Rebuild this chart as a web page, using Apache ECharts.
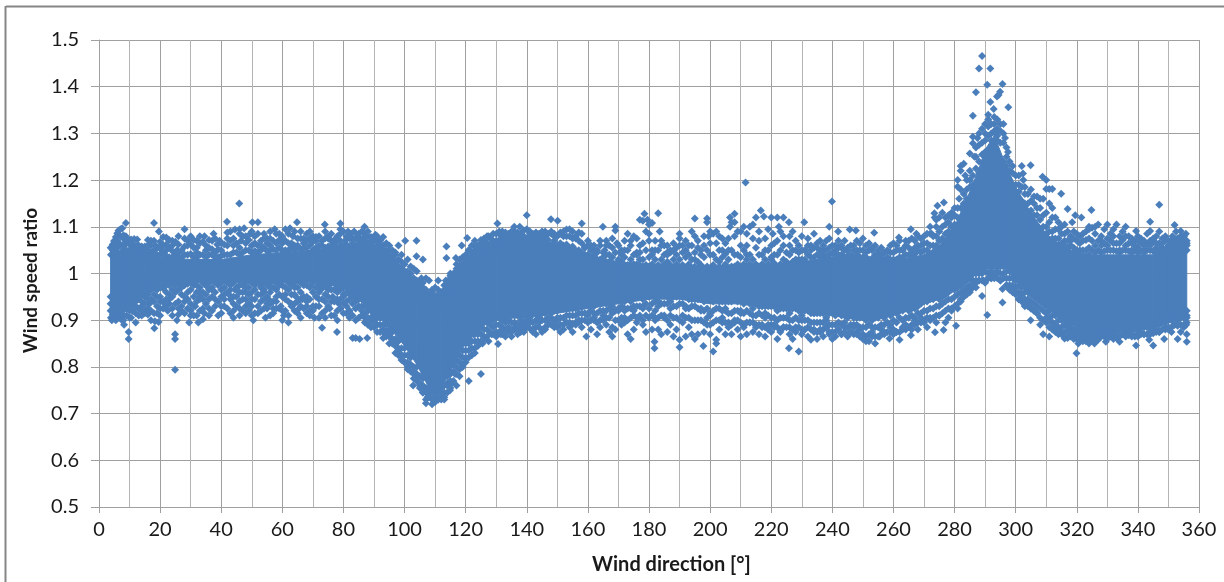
<!DOCTYPE html>
<html><head><meta charset="utf-8">
<style>html,body{margin:0;padding:0;background:#fff}#c{width:1224px;height:582px}</style>
<script src="https://cdn.jsdelivr.net/npm/echarts@6/dist/echarts.min.js"></script>
</head><body><div id="c"></div>
<script>
const xTitle = 'Wind direction [°]';
const yTitle = 'Wind speed ratio';
// solid core of the cloud, read as lower/upper edge per direction
const coreDirection = [3.8,8,10,15,20,30,40,50,60,70,80,85,90,95,100,104,108,110,112,115,118,120,123,126,130,135,140,150,160,170,180,190,200,210,220,230,240,250,260,270,275,280,285,288,290,293,296,300,305,310,315,320,325,330,335,340,345,350,355,356];
const coreLow = [.925,.925,.935,.955,.97,.98,.98,.98,.98,.98,.97,.945,.915,.885,.845,.805,.755,.74,.755,.79,.83,.85,.87,.89,.9,.905,.905,.915,.925,.935,.945,.945,.935,.935,.925,.92,.91,.9,.91,.935,.945,.965,.985,1.005,1.015,1.015,1.015,.985,.955,.93,.9,.885,.875,.875,.885,.885,.89,.9,.91,.91];
const coreHigh = [1.05,1.05,1.045,1.04,1.035,1.03,1.03,1.04,1.045,1.05,1.055,1.065,1.06,1.04,1.01,.98,.96,.955,.965,.99,1.01,1.03,1.05,1.06,1.07,1.075,1.075,1.065,1.04,1.025,1.02,1.02,1.015,1.02,1.02,1.025,1.035,1.03,1.028,1.04,1.06,1.1,1.175,1.225,1.265,1.295,1.245,1.185,1.13,1.085,1.06,1.045,1.04,1.04,1.04,1.04,1.04,1.05,1.065,1.065];
// individual readings around and above/below the core
const sectorA = [[3.8,1.055],[3.9,1.04],[3.8,.95],[3.8,.935],[3.8,.92],[3.9,.905],[4.2,.9],[4.5,1.06],[5,1.07],[5.5,1.078],[6,1.086],[6.4,1.092],[7,1.095],[7.6,1.097],[8,1.082],[8.8,1.108],[8.8,1.08],[8.5,1.066],[9.5,1.073],[10.5,1.073],[11.5,1.074],[12.5,1.073],[11,1.055],[13,1.05],[14.5,1.05],[16,1.06],[17,1.06],[18,1.108],[19.6,1.09],[18.5,1.06],[21,1.078],[22,1.077],[23,1.072],[20.5,1.05],[24,1.06],[26,1.08],[28,1.095],[25.5,1.05],[29,1.06],[5,.915],[5.5,.9],[6.5,.905],[7.5,.9],[8.2,.89],[9.7,.86],[9.7,.875],[10.5,.905],[11,.92],[12,.895],[13,.91],[9,.925],[14,.93],[15,.92],[16.5,.935],[17,.9],[18.1,.883],[18.3,.898],[19.5,.896],[19,.93],[20,.94],[21.5,.935],[22.5,.92],[23,.945],[24.9,.794],[24.9,.86],[24.9,.87],[24,.91],[25.5,.9],[26,.94],[27,.93],[28,.95],[29.5,.895],[30,.91],[31,.91],[32.5,.895],[31.5,.93],[33,.945],[29,.96],[34,.96],[22,.96],[24,.965],[27,.97],[16,.955],[19,.965],[25,.975],[12,.94]];
const sectorB = [[30,1.08],[31,1.072],[33,1.08],[34.5,1.08],[36,1.072],[37.5,1.085],[38.7,1.062],[32,1.055],[35,1.05],[37,1.052],[40,1.05],[39.5,1.07],[41.9,1.111],[43,1.09],[44.5,1.094],[45.9,1.15],[46,1.095],[47.5,1.097],[42,1.075],[44,1.06],[46.5,1.07],[48,1.08],[50.2,1.11],[52,1.11],[49.5,1.085],[51,1.065],[53,1.07],[54,1.085],[55,1.075],[56,1.09],[57.5,1.095],[59,1.085],[60,1.08],[61,1.095],[62.5,1.097],[63.5,1.08],[64.8,1.11],[56,1.06],[58,1.065],[62,1.065],[65,1.06],[34.5,.915],[36,.925],[38,.93],[39,.91],[41,.945],[42.5,.955],[44,.935],[46,.94],[47,.96],[44.5,.965],[48,.93],[49,.92],[50.5,.9],[52,.93],[53,.94],[54.5,.905],[55.5,.945],[57,.925],[58,.95],[59.5,.93],[60.5,.91],[62,.895],[63,.93],[64.5,.95],[65.5,.925],[40,.965],[43,.975],[48,.96],[51,.965],[54,.96],[56,.97],[61,.955],[64,.97],[37,.965],[35,.975],[53,.975],[59,.975],[50,.945],[46,.975],[55,.925],[66,.945],[33,.96]];
const sectorC = [[66,1.09],[67,1.075],[68,1.085],[69,1.09],[70,1.08],[71,1.07],[72,1.06],[73.9,1.105],[74,1.09],[75,1.075],[76,1.07],[77,1.065],[78,1.08],[79,1.107],[79,1.095],[79,1.085],[80.5,1.07],[81.5,1.09],[82.5,1.085],[83.5,1.09],[84.5,1.08],[85.5,1.075],[86.9,1.1],[87,1.085],[88,1.09],[89,1.07],[90.5,1.083],[91,1.08],[92,1.07],[93,1.078],[94,1.065],[95,1.06],[96,1.05],[97,1.045],[98,1.06],[99,1.04],[100.2,1.07],[103.9,1.07],[103.9,1.037],[106,1.03],[101,1.03],[102,1.015],[103,1.01],[104,1.005],[105.5,.99],[107,.99],[108,.985],[106,.97],[109,.965],[110,.97],[111,.985],[112,.96],[113.7,1.058],[113.7,1.033],[113.5,.985],[115,.995],[116.8,1.033],[116,1.0],[117,1.01],[118.7,1.06],[118,1.03],[119,1.02],[120.5,1.076],[120,1.04],[121,1.05],[122,1.06],[123,1.07],[124,1.055],[125,1.065],[126,1.075],[127.5,1.08],[128.5,1.06],[66.5,.945],[68,.93],[69,.91],[70.5,.905],[72,.945],[73,.884],[74,.94],[75.5,.925],[76.5,.95],[77.9,.875],[78.5,.935],[80,.95],[81,.93],[82,.92],[83,.862],[84,.862],[85.3,.86],[87.8,.862],[84.5,.945],[86,.92],[87,.905],[88,.93],[89,.895],[90,.91],[91,.89],[92,.905],[93,.88],[94,.875],[95,.87],[96,.86],[97,.85],[98,.835],[99,.825],[100,.81],[101,.8],[102.8,.76],[103,.785],[104,.775],[105,.76],[106,.745],[107,.722],[107.5,.735],[108,.742],[109,.72],[110,.735],[111,.73],[113,.73],[112,.745],[114.9,.75],[114,.76],[115.5,.765],[117,.76],[116.5,.785],[118,.78],[119,.8],[120,.81],[121,.77],[122,.825],[123,.83],[124,.845],[125,.785],[125.5,.85],[126.5,.86],[127.5,.855],[128.5,.87],[122.5,.87],[124,.875],[69,.97],[72,.97],[75,.965],[78,.96],[82,.955],[92,.92],[96,.89]];
const sectorD = [[130.4,1.107],[131,1.09],[132,1.08],[133,1.078],[134,1.085],[135.9,1.1],[137.7,1.1],[136,1.085],[138,1.085],[139,1.08],[140,1.125],[141,1.09],[142,1.075],[143,1.08],[144,1.085],[145,1.09],[146,1.08],[147.9,1.116],[148,1.09],[149,1.085],[150.1,1.113],[151,1.088],[152,1.08],[153,1.094],[154,1.095],[155,1.09],[156,1.08],[157,1.088],[158,1.107],[158,1.065],[159,1.055],[160,1.06],[161,1.06],[162,1.05],[163,1.045],[164.9,1.1],[164,1.06],[165.5,1.05],[166,1.07],[167,1.06],[168,1.055],[169,1.1],[169,1.092],[169.5,1.065],[170.5,1.045],[171,1.05],[172,1.05],[173,1.085],[174,1.07],[175,1.08],[176,1.04],[177,1.06],[130.6,.849],[131.5,.87],[132,.88],[133,.865],[134,.88],[135,.865],[136,.885],[137,.87],[138,.89],[139,.875],[140,.89],[141,.905],[142,.875],[143,.87],[144,.895],[145,.875],[146,.88],[147,.9],[148,.915],[149,.89],[150,.905],[151,.875],[152,.88],[153,.895],[154,.885],[155,.875],[156,.895],[157,.9],[158,.885],[159.5,.865],[160,.915],[161,.88],[162,.905],[163,.87],[164,.885],[165,.91],[166,.89],[167,.875],[168,.865],[169,.88],[170,.92],[171,.89],[172,.905],[173,.87],[174,.86],[175,.88],[176,.895],[177,.91],[178,.89],[179,.875],[143,.92],[146,.92],[155,.925],[158,.93],[162,.935],[166,.935],[168,.92],[172,.925],[175,.92],[178,.93],[160,.94],[174,.94],[165,1.035],[171,1.025],[177,1.03],[176,1.02]];
const sectorE = [[177,1.115],[178,1.113],[178.5,1.128],[179.5,1.115],[180,1.105],[181,1.108],[179,1.09],[180,1.07],[181,1.05],[183,1.129],[182,1.07],[183.5,1.09],[184,1.06],[185,1.06],[186,1.045],[187,1.05],[188,1.065],[189,1.055],[190,1.085],[190,1.075],[191,1.06],[192,1.05],[193,1.06],[194,1.09],[195,1.118],[195,1.08],[196,1.07],[197,1.05],[198,1.08],[199,1.118],[199,1.11],[199.5,1.08],[200,1.065],[201,1.085],[202,1.09],[203,1.08],[204,1.05],[205,1.065],[206,1.075],[206.5,1.12],[206.5,1.1],[207,1.11],[208,1.128],[208,1.11],[209,1.09],[210,1.06],[211.6,1.195],[211,1.1],[212,1.06],[213,1.1],[214,1.105],[215,1.12],[216.6,1.135],[216,1.09],[217.6,1.122],[218,1.075],[219,1.095],[220,1.12],[220.5,1.085],[221,1.065],[222,1.12],[222.5,1.1],[223,1.09],[224,1.12],[224,1.08],[225.8,1.11],[226,1.06],[227,1.09],[228,1.07],[229,1.06],[230.8,1.11],[230,1.08],[231,1.05],[232,1.075],[233,1.06],[234,1.085],[235,1.065],[236,1.07],[237,1.06],[238,1.07],[239,1.1],[239,1.075],[239.9,1.154],[240,1.06],[181.8,.854],[181.8,.84],[181,.88],[182,.905],[183,.88],[184,.87],[185,.91],[186,.875],[187,.89],[188,.865],[189,.88],[190,.858],[190,.842],[191,.895],[192,.865],[193,.885],[194,.87],[195,.86],[196,.87],[197.8,.845],[198,.875],[199,.89],[200,.87],[201,.833],[202,.858],[202,.85],[203,.88],[204,.895],[205,.87],[206,.885],[207,.87],[208,.895],[209,.88],[210,.865],[211,.885],[212,.87],[213,.895],[214,.875],[215,.885],[216,.87],[217,.89],[218,.865],[219,.88],[220,.875],[221,.89],[222,.86],[223,.875],[224,.885],[225.8,.84],[226,.87],[227,.86],[228,.875],[229,.833],[230,.87],[231,.88],[232,.865],[233,.858],[234,.88],[235,.86],[236,.875],[237,.865],[238,.885],[239,.87],[240,.86],[183,.94],[187,.925],[192,.93],[197,.925],[200,.915],[205,.925],[210,.92],[214,.925],[218,.915],[222,.92],[226,.915],[230,.91],[234,.915],[238,.905],[186,1.025],[195,1.03],[203,1.025],[212,1.03],[220,1.03],[228,1.03],[236,1.035]];
const sectorF = [[241.9,1.09],[241,1.06],[242,1.055],[243,1.06],[244,1.05],[245.7,1.094],[245,1.055],[246,1.06],[247.7,1.092],[247,1.06],[248,1.05],[249,1.065],[250,1.075],[251,1.06],[252,1.05],[253.7,1.087],[253,1.055],[254,1.06],[255,1.05],[256,1.04],[257,1.045],[258,1.05],[259,1.06],[260,1.065],[261.8,1.077],[261,1.06],[262,1.07],[263,1.05],[264,1.06],[265.7,1.095],[265,1.07],[266,1.05],[267.5,1.085],[267,1.07],[268,1.06],[269,1.075],[270,1.08],[271,1.085],[272,1.1],[272.5,1.085],[273.4,1.129],[273.5,1.12],[274.4,1.145],[274,1.1],[275,1.12],[276.5,1.152],[276,1.13],[277,1.12],[278,1.125],[279,1.13],[280,1.14],[281,1.2],[281,1.186],[281.5,1.16],[282,1.23],[282,1.22],[283,1.235],[283.5,1.21],[284,1.2],[285,1.257],[285,1.22],[286,1.293],[286,1.279],[286,1.338],[286.5,1.25],[287,1.388],[287.5,1.29],[287,1.27],[288,1.439],[288,1.3],[289,1.466],[289,1.31],[290,1.32],[290.7,1.404],[291,1.34],[291,1.33],[291.7,1.439],[291.7,1.367],[292.8,1.352],[293,1.335],[293.5,1.3],[293.9,1.379],[294.4,1.382],[294.9,1.389],[294,1.33],[295,1.32],[295.7,1.406],[296,1.32],[297.6,1.356],[296.5,1.29],[297,1.27],[297.5,1.26],[298,1.24],[299,1.23],[300,1.21],[301,1.21],[302,1.23],[302.4,1.214],[302.5,1.2],[303,1.185],[304.9,1.232],[304,1.17],[305,1.18],[306,1.165],[307,1.165],[308,1.16],[308.8,1.207],[309,1.16],[310,1.2],[310,1.181],[311,1.181],[312,1.181],[311,1.15],[312,1.14],[313,1.12],[314.9,1.171],[314,1.11],[315,1.1],[316,1.105],[317,1.138],[317,1.09],[318,1.08],[319,1.09],[319.5,1.125],[318.5,1.11],[320,1.085],[321,1.08],[321.5,1.12],[322,1.085],[323,1.09],[324,1.1],[324.8,1.136],[324,1.095],[325,1.098],[326,1.1],[327,1.105],[241,.865],[242,.88],[243,.87],[244,.885],[245,.865],[246,.875],[247,.89],[248,.875],[249,.88],[250,.86],[251,.855],[252,.855],[253,.875],[254,.85],[255.5,.865],[256,.88],[257,.875],[258.7,.861],[259,.885],[260,.87],[261,.875],[262,.858],[263,.885],[264,.88],[265.7,.868],[266,.89],[267,.9],[268,.88],[269,.905],[270,.895],[271,.885],[272,.9],[273.6,.874],[274,.895],[275,.91],[276.4,.879],[277,.895],[278,.905],[279,.92],[280.5,.888],[281,.925],[282,.94],[283,.95],[284,.96],[285,.965],[286,.975],[287,.98],[288,.985],[289,.952],[289.5,.985],[290.7,.911],[290,.98],[291,.99],[292,.99],[293,.995],[294,.99],[295.7,.938],[295.7,.967],[295,.985],[296,.99],[297,.975],[298,.965],[299,.97],[300,.955],[301,.945],[302,.955],[303,.933],[304,.935],[304.9,.9],[305,.925],[306,.92],[307,.915],[308,.89],[309,.87],[310,.905],[311,.865],[312,.895],[313,.885],[314,.88],[315,.875],[316,.861],[317,.885],[318,.87],[319.9,.829],[320.5,.85],[319,.865],[321,.87],[322,.86],[323,.865],[324,.87],[325.8,.85],[326,.87],[327,.875]];
const sectorG = [[328,1.08],[329,1.095],[330,1.105],[331,1.085],[332,1.095],[333,1.105],[334,1.08],[335,1.09],[336,1.1],[337,1.08],[338,1.075],[339.4,1.091],[339,1.07],[340,1.08],[341,1.075],[342,1.07],[343,1.085],[344,1.111],[344,1.091],[345,1.075],[346,1.08],[347,1.147],[347,1.09],[348,1.075],[349,1.08],[350,1.07],[351.3,1.08],[351,1.065],[352,1.104],[352.5,1.09],[353,1.075],[354,1.091],[354,1.07],[355,1.08],[355.7,1.085],[356,1.07],[356,1.06],[328,1.06],[330,1.06],[332,1.065],[334,1.05],[336,1.06],[338,1.05],[340,1.055],[342,1.05],[344,1.06],[346,1.055],[348,1.055],[350,1.05],[352,1.06],[354,1.06],[329.5,.854],[328,.87],[330,.865],[331,.875],[332,.87],[333,.865],[334,.854],[335,.87],[336,.875],[337,.87],[338,.865],[339.4,.846],[340,.87],[341,.875],[342,.87],[343.7,.858],[344,.875],[345,.846],[346,.88],[347,.875],[348.6,.86],[349,.885],[350,.88],[351,.875],[352,.89],[353,.86],[354,.875],[355,.885],[356,.854],[356,.87],[355.8,.89],[356,.905],[356,.92],[329,.885],[333,.885],[337,.89],[341,.895],[345,.895],[349,.9],[353,.9],[355,.91]];
// columns of readings filling the cloud between core and outer fringe: direction, then ratios
const fillWest = [[4.5,1.062,1.05,.925,.912,.918,.905],[6,1.07,1.06,1.055,.92,.91,.93],[8,1.075,1.06,1.052,.922,.91,.935,.9],[10,1.062,1.05,.93,.92,.94,.905],[12,1.06,1.047,1.055,.948,.93,.915],[14,1.058,1.045,.955,.94,.92,.91,.965],[16,1.072,1.05,1.04,.965,.945,.925,.912],[18,1.07,1.05,1.04,.97,.955,.94,.915,.98],[20,1.068,1.058,1.04,.97,.95,.925,.91],[22,1.062,1.05,1.038,.975,.945,.93,.985],[24,1.07,1.048,1.035,.98,.95,.925],[26,1.062,1.045,1.035,.98,.965,.925,.912],[28,1.075,1.058,1.04,.975,.94,.915],[30,1.062,1.042,.98,.965,.935,.92],[32,1.07,1.045,1.035,.975,.96,.94,.91],[34,1.068,1.04,.98,.945,.925,.902],[36,1.055,1.04,.98,.965,.945,.91],[38,1.075,1.045,1.035,.98,.96,.945],[40,1.065,1.038,.98,.95,.93,.915],[42,1.088,1.06,1.04,.98,.96,.925],[44,1.075,1.045,.98,.95,.92,.905],[46,1.085,1.055,1.04,.96,.925,.91],[48,1.065,1.05,.98,.97,.945,.915],[50,1.09,1.06,1.045,.98,.96,.93,.91],[52,1.085,1.06,1.045,.98,.955,.915],[54,1.075,1.055,.98,.965,.945,.925],[56,1.075,1.05,.98,.96,.935,.91],[58,1.085,1.05,.98,.965,.94,.925],[60,1.065,1.05,.975,.95,.92,.9],[62,1.085,1.05,.98,.965,.94,.91],[64,1.09,1.06,1.05,.98,.955,.935,.92],[66,1.075,1.052,.98,.96,.93,.905],[68,1.07,1.055,.975,.95,.94,.915],[70,1.068,1.05,.98,.96,.93,.92],[72,1.08,1.05,.975,.96,.93,.905],[74,1.075,1.055,.975,.955,.92,.905],[76,1.085,1.06,.98,.965,.94,.91],[78,1.07,1.055,.97,.945,.92,.9],[80,1.09,1.06,.97,.955,.935,.915],[82,1.075,1.055,.965,.945,.92,.905],[84,1.075,1.06,.955,.94,.925,.9],[86,1.09,1.07,1.06,.945,.93,.91],[88,1.08,1.065,1.05,.935,.92,.905,.89],[90,1.07,1.055,1.045,.915,.9,.885],[92,1.06,1.05,1.04,.905,.89,.875],[94,1.05,1.04,1.02,.89,.875,.865],[96,1.035,1.025,1.01,.875,.86,.85],[98,1.03,1.015,.995,.855,.84,.825],[100,1.02,1.005,.985,.84,.825,.81],[102,1.0,.985,.97,.82,.805,.79],[104,.985,.97,.955,.8,.785,.77],[106,.98,.955,.94,.775,.76,.745],[108,.955,.945,.935,.755,.745,.735],[110,.95,.94,.93,.745,.735,.725],[112,.955,.945,.935,.755,.74,.73],[114,.97,.955,.945,.78,.765,.745],[116,.985,.975,.96,.805,.79,.77],[118,1.015,1.005,.99,.825,.81,.795],[120,1.03,1.02,1.005,.85,.835,.82],[122,1.045,1.03,1.02,.875,.855,.84],[124,1.06,1.045,1.03,.885,.87,.855],[126,1.07,1.055,1.04,.895,.88,.865],[128,1.075,1.06,1.05,.905,.89,.875],[130,1.085,1.07,1.058,.905,.89,.875,.865]];
const fillMiddle = [[132,1.09,1.07,1.06,.912,.9,.885,.87],[134,1.08,1.07,.915,.9,.885,.875],[136,1.09,1.075,.91,.895,.88],[138,1.075,1.07,.915,.9,.885,.875],[140,1.095,1.075,.915,.9,.885],[142,1.085,1.07,.915,.895,.88],[144,1.08,1.065,.92,.905,.885],[146,1.09,1.07,1.055,.915,.9,.885],[148,1.085,1.06,.92,.905,.89],[150,1.08,1.06,.92,.9,.885],[152,1.09,1.06,.925,.905,.89],[154,1.08,1.055,.93,.91,.895],[156,1.075,1.05,1.04,.925,.91,.89],[158,1.085,1.045,1.03,.93,.915,.9],[160,1.07,1.04,1.03,.935,.91,.895],[162,1.06,1.04,1.025,.93,.915,.9],[164,1.07,1.03,.935,.92,.9],[166,1.06,1.04,1.02,.94,.92,.905],[168,1.075,1.035,.93,.915,.885],[170,1.06,1.03,1.02,.945,.925,.9],[172,1.07,1.035,1.015,.94,.92,.895],[174,1.06,1.03,.945,.925,.905],[176,1.075,1.045,1.015,.95,.93,.905],[178,1.065,1.03,1.012,.945,.925,.9],[180,1.085,1.035,1.015,.95,.925,.905],[182,1.05,1.03,.955,.94,.92,.9],[184,1.07,1.03,1.012,.955,.935,.91],[186,1.06,1.04,1.012,.95,.935,.9],[188,1.05,1.03,.95,.93,.905],[190,1.06,1.03,1.012,.955,.935,.9],[192,1.07,1.035,.95,.925,.905],[194,1.06,1.03,1.01,.945,.93,.9],[196,1.055,1.025,.945,.925,.9],[198,1.06,1.035,1.01,.94,.92,.895],[200,1.09,1.04,1.012,.945,.91,.89],[202,1.065,1.03,.945,.925,.9],[204,1.075,1.035,1.012,.94,.92,.905],[206,1.05,1.03,.94,.915,.895],[208,1.08,1.04,1.015,.945,.92,.9],[210,1.09,1.035,.94,.915,.895],[212,1.085,1.04,1.015,.94,.92,.895],[214,1.075,1.03,.935,.91,.895],[216,1.07,1.04,1.015,.93,.915,.89],[218,1.05,1.03,.93,.905,.885],[220,1.06,1.035,1.015,.93,.905,.89],[222,1.07,1.04,.925,.9,.885],[224,1.06,1.03,1.015,.925,.905,.885],[226,1.08,1.04,.925,.9,.885],[228,1.05,1.025,1.012,.925,.905,.885],[230,1.05,1.03,.92,.9,.88],[232,1.06,1.04,1.02,.92,.9,.885],[234,1.055,1.035,.915,.895,.875],[236,1.05,1.04,1.025,.915,.895,.88],[238,1.05,1.035,.92,.9,.885],[240,1.045,1.03,.915,.89,.875],[242,1.07,1.04,1.03,.915,.895,.88],[244,1.07,1.035,.91,.895,.875],[246,1.04,1.03,.91,.89,.875],[248,1.07,1.04,1.025,.905,.89,.87],[250,1.05,1.035,.91,.885,.87],[252,1.065,1.03,.905,.89,.87]];
const fillEast = [[254,1.04,1.03,.905,.885,.865],[256,1.055,1.03,.91,.89,.87],[258,1.035,1.028,.915,.895,.875],[260,1.045,1.03,.92,.9,.88],[262,1.05,1.035,.92,.905,.875],[264,1.07,1.04,.925,.905,.89],[266,1.075,1.04,.925,.91,.88],[268,1.08,1.05,.93,.915,.895],[270,1.065,1.05,.94,.92,.9],[272,1.085,1.06,.945,.925,.905],[274,1.115,1.08,1.06,.95,.93,.91],[276,1.1,1.075,.95,.935,.915],[278,1.11,1.09,.96,.945,.925],[280,1.125,1.105,.965,.95,.93],[282,1.18,1.14,1.12,.975,.96,.945],[284,1.18,1.16,1.14,.985,.97,.955],[286,1.21,1.19,1.165,1.0,.985,.97],[288,1.275,1.24,1.215,1.01,1.0,.985],[290,1.3,1.285,1.26,1.015,1.005],[292,1.32,1.3,1.285,1.015,1.005,.99],[294,1.31,1.295,1.285,1.015,1.005],[296,1.3,1.28,1.24,1.015,1.0],[298,1.22,1.2,1.175,1.005,.99,.975],[300,1.19,1.17,.985,.97,.96],[302,1.185,1.155,1.14,.97,.955,.94],[304,1.15,1.13,.96,.945,.93],[306,1.15,1.125,.95,.935,.92],[308,1.14,1.115,1.095,.94,.925,.905],[310,1.13,1.1,1.085,.93,.915,.895],[312,1.12,1.09,1.075,.91,.895,.88],[314,1.095,1.075,1.06,.9,.885,.87],[316,1.085,1.07,1.06,.89,.875,.865],[318,1.07,1.06,.885,.875,.865],[320,1.07,1.05,.88,.87,.86],[322,1.07,1.05,.875,.865,.855],[324,1.075,1.055,1.04,.875,.86,.85],[326,1.085,1.06,1.045,.87,.86,.855],[328,1.07,1.045,.875,.865],[330,1.075,1.05,.875,.86],[332,1.08,1.05,.875,.86],[334,1.065,1.045,.88,.865],[336,1.08,1.05,.88,.865],[338,1.065,1.045,.88,.87],[340,1.07,1.045,.88,.865],[342,1.06,1.045,.885,.87],[344,1.07,1.05,.885,.87],[346,1.065,1.045,.89,.875],[348,1.065,1.05,.895,.88],[350,1.06,1.055,.9,.885],[352,1.075,1.065,.905,.89],[354,1.08,1.07,.905,.89],[356,1.065,1.05,.91,.895]];
// readings at the odd directions, breaking up the columns above
const fillOddWest = [[5,1.058,1.068,.918,.908],[7,1.062,1.08,.915,.928],[9,1.05,1.065,.93,.91,.945],[11,1.048,1.062,.935,.95,.92],[13,1.045,1.06,.945,.925,.96],[15,1.045,1.058,.95,.935,.915],[17,1.045,1.07,.965,.945,.92],[19,1.04,1.055,.97,.95,.915],[21,1.042,1.06,.968,.94,.925],[23,1.035,1.055,.975,.955,.935],[25,1.04,1.068,.98,.96,.935],[27,1.035,1.05,.975,.955,.92],[29,1.04,1.07,.978,.945,.925],[31,1.035,1.055,.975,.95,.93],[33,1.04,1.065,.97,.95,.92],[35,1.035,1.06,.975,.955,.935],[37,1.04,1.07,.97,.95,.92],[39,1.035,1.052,.975,.94],[41,1.04,1.062,.97,.955,.93],[43,1.04,1.07,.965,.945,.915],[45,1.045,1.065,.97,.95,.93],[47,1.045,1.08,.975,.945,.92],[49,1.05,1.072,.97,.955,.935],[51,1.048,1.08,.975,.945,.915],[53,1.05,1.06,.97,.955,.92],[55,1.048,1.065,.975,.95,.935],[57,1.052,1.07,.97,.94,.915],[59,1.055,1.072,.975,.955,.925],[61,1.05,1.07,.97,.945,.92],[63,1.055,1.065,.975,.955,.935],[65,1.058,1.075,.97,.94,.915],[67,1.055,1.065,.975,.95,.925],[69,1.06,1.075,.972,.945,.92],[71,1.055,1.078,.97,.95,.93],[73,1.06,1.07,.968,.945,.915],[75,1.058,1.08,.97,.95,.93],[77,1.055,1.072,.965,.94,.91],[79,1.06,1.07,.965,.945,.925],[81,1.062,1.08,.96,.94,.915],[83,1.065,1.075,.95,.935,.91],[85,1.07,1.085,.945,.93,.905],[87,1.07,1.08,.93,.915,.895],[89,1.065,1.078,.92,.905,.885],[91,1.06,1.07,.905,.89,.875],[93,1.05,1.06,.89,.875,.862],[95,1.04,1.05,.88,.865,.85],[97,1.025,1.04,.86,.845,.83],[99,1.01,1.025,.84,.825,.815],[101,.99,1.005,.825,.81,.795],[103,.975,.99,.8,.79,.775],[105,.965,.978,.78,.765,.755],[107,.95,.965,.755,.745,.73],[109,.95,.96,.745,.73],[111,.955,.965,.745,.73],[113,.96,.975,.76,.745,.735],[115,.99,1.0,.785,.77,.755],[117,1.005,1.02,.815,.8,.785],[119,1.02,1.035,.835,.82,.805],[121,1.035,1.05,.85,.835,.82],[123,1.05,1.06,.87,.855,.84],[125,1.06,1.072,.885,.87,.855],[127,1.065,1.08,.895,.88,.865],[129,1.07,1.085,.9,.885,.87]];
const fillOddMiddle = [[131,1.072,1.085,.905,.89,.875],[133,1.075,1.088,.91,.895,.878],[135,1.078,1.09,.91,.895,.875],[137,1.078,1.088,.91,.89,.878],[139,1.075,1.092,.91,.895,.88],[141,1.078,1.085,.91,.895,.882],[143,1.072,1.088,.915,.9,.885],[145,1.075,1.082,.915,.9,.88],[147,1.072,1.085,.92,.905,.89],[149,1.07,1.08,.92,.9,.885],[151,1.065,1.085,.925,.905,.89],[153,1.062,1.08,.925,.91,.895],[155,1.058,1.075,.93,.91,.892],[157,1.05,1.07,.93,.915,.895],[159,1.04,1.055,.935,.915,.9],[161,1.035,1.05,.935,.92,.9],[163,1.03,1.05,.935,.915,.895],[165,1.025,1.045,.94,.92,.9],[167,1.025,1.04,.94,.925,.905],[169,1.02,1.045,.945,.92,.9],[171,1.02,1.04,.945,.93,.905],[173,1.018,1.05,.95,.925,.9],[175,1.02,1.04,.95,.93,.91],[177,1.018,1.045,.955,.93,.905],[179,1.018,1.05,.955,.935,.91],[181,1.02,1.04,.955,.935,.91],[183,1.018,1.05,.955,.93,.905],[185,1.02,1.04,.955,.935,.905],[187,1.018,1.045,.955,.94,.91],[189,1.02,1.04,.95,.93,.905],[191,1.018,1.045,.95,.935,.91],[193,1.02,1.04,.945,.925,.905],[195,1.015,1.045,.945,.93,.9],[197,1.018,1.04,.945,.92,.9],[199,1.015,1.05,.945,.925,.905],[201,1.018,1.04,.94,.92,.895],[203,1.015,1.05,.94,.925,.9],[205,1.02,1.042,.94,.92,.895],[207,1.015,1.05,.94,.915,.89],[209,1.02,1.04,.94,.92,.9],[211,1.02,1.05,.935,.915,.89],[213,1.02,1.04,.935,.915,.895],[215,1.02,1.055,.935,.91,.89],[217,1.02,1.04,.93,.91,.885],[219,1.02,1.05,.93,.91,.89],[221,1.022,1.04,.93,.905,.885],[223,1.02,1.05,.925,.905,.88],[225,1.025,1.045,.925,.905,.885],[227,1.025,1.05,.925,.9,.88],[229,1.03,1.045,.92,.9,.885],[231,1.03,1.05,.92,.9,.88],[233,1.035,1.05,.915,.895,.88],[235,1.04,1.055,.915,.895,.875],[237,1.04,1.05,.915,.895,.88],[239,1.04,1.055,.915,.89,.875],[241,1.04,1.05,.91,.89,.875],[243,1.04,1.055,.91,.89,.87],[245,1.038,1.05,.905,.885,.87],[247,1.035,1.05,.905,.885,.87],[249,1.035,1.05,.905,.885,.865],[251,1.035,1.045,.9,.885,.865],[253,1.032,1.05,.9,.885,.865]];
const fillOddEast = [[255,1.03,1.04,.905,.885,.865],[257,1.03,1.045,.905,.89,.87],[259,1.03,1.045,.91,.89,.875],[261,1.03,1.05,.915,.895,.875],[263,1.035,1.052,.92,.9,.88],[265,1.04,1.055,.92,.905,.885],[267,1.042,1.055,.925,.905,.89],[269,1.045,1.06,.935,.915,.895],[271,1.05,1.065,.94,.92,.905],[273,1.06,1.08,.945,.925,.905],[275,1.07,1.09,.945,.93,.91],[277,1.085,1.105,.955,.94,.92],[279,1.1,1.12,.965,.945,.925],[281,1.12,1.14,.97,.955,.935],[283,1.15,1.17,.98,.965,.95],[285,1.185,1.2,.99,.975,.96],[287,1.225,1.25,1.0,.985,.97],[289,1.255,1.28,1.01,1.0,.985],[291,1.295,1.315,1.015,1.0,.99],[293,1.305,1.32,1.015,1.0,.99],[295,1.28,1.305,1.015,1.0,.985],[297,1.23,1.25,1.005,.99,.975],[299,1.19,1.215,.99,.975,.96],[301,1.175,1.19,.975,.96,.945],[303,1.15,1.17,.96,.945,.93],[305,1.135,1.155,.955,.94,.925],[307,1.125,1.14,.945,.93,.915],[309,1.1,1.125,.935,.92,.9],[311,1.09,1.11,.92,.905,.885],[313,1.075,1.095,.91,.89,.875],[315,1.065,1.085,.9,.885,.87],[317,1.055,1.07,.89,.875,.862],[319,1.055,1.075,.88,.87,.86],[321,1.05,1.065,.88,.865,.855],[323,1.05,1.072,.875,.865,.855],[325,1.05,1.07,.875,.865,.855],[327,1.05,1.07,.875,.865,.858],[329,1.048,1.065,.875,.865],[331,1.05,1.07,.875,.865],[333,1.048,1.065,.875,.862],[335,1.05,1.072,.88,.87],[337,1.048,1.065,.88,.868],[339,1.05,1.06,.88,.865],[341,1.048,1.065,.885,.87],[343,1.05,1.062,.885,.87],[345,1.048,1.068,.885,.872],[347,1.05,1.065,.89,.875],[349,1.052,1.07,.895,.88],[351,1.055,1.072,.9,.885],[353,1.062,1.075,.905,.888],[355,1.068,1.08,.905,.89]];
const columnsToPairs = cols => cols.flatMap(c => c.slice(1).map(v => [c[0], v]));
const readings = [].concat(sectorA, sectorB, sectorC, sectorD, sectorE, sectorF, sectorG,
  columnsToPairs(fillWest), columnsToPairs(fillMiddle), columnsToPairs(fillEast),
  columnsToPairs(fillOddWest), columnsToPairs(fillOddMiddle), columnsToPairs(fillOddEast));
const coreRows = coreDirection.map((d,i)=>[d,coreLow[i],coreHigh[i],i]);
const blue = '#4a7ebb', gridCol = '#a0a0a0', minorCol = '#b4b4b4', textCol = '#1a1a1a', font = 'Lato';
const chart = echarts.init(document.getElementById('c'), null, {renderer:'canvas'});
chart.setOption({
  animation:false,
  backgroundColor:'#fff',
  graphic:[
    {type:'line',silent:true,shape:{x1:6,y1:6.5,x2:1224,y2:6.5},style:{stroke:'#868686',lineWidth:2}},
    {type:'line',silent:true,shape:{x1:5.5,y1:6,x2:5.5,y2:582},style:{stroke:'#868686',lineWidth:2}}
  ],
  grid:{left:99,right:25,top:40,bottom:75,containLabel:false},
  xAxis:{type:'value',min:0,max:360,interval:20,
    name:xTitle,nameLocation:'middle',nameGap:48,
    nameTextStyle:{fontFamily:font,fontSize:20,fontWeight:'bold',color:textCol,padding:[0,0,0,45]},
    axisLine:{onZero:false,lineStyle:{color:gridCol}},
    axisTick:{show:true,length:6,lineStyle:{color:gridCol}},
    minorTick:{show:false,splitNumber:2},
    axisLabel:{fontFamily:font,fontSize:20,color:textCol,margin:13},
    splitLine:{show:true,lineStyle:{color:gridCol,width:1}},
    minorSplitLine:{show:true,lineStyle:{color:minorCol,width:1}}},
  yAxis:{type:'value',min:0.5,max:1.5,interval:0.1,
    name:yTitle,nameLocation:'middle',nameGap:50,
    nameTextStyle:{fontFamily:font,fontSize:19,fontWeight:'bold',color:textCol,padding:[0,14,0,0]},
    axisLine:{show:true,lineStyle:{color:gridCol}},
    axisTick:{show:true,length:8,lineStyle:{color:gridCol}},
    axisLabel:{fontFamily:font,fontSize:20,color:textCol,margin:20},
    splitLine:{show:true,lineStyle:{color:gridCol,width:1}}},
  series:[
    {type:'custom',name:'core',data:coreRows,silent:true,z:2,
     encode:{x:0,y:[1,2]},clip:true,
     renderItem:function(params,api){
       const i=api.value(3); if(i>=coreRows.length-1) return null;
       const n=coreRows[i+1];
       const pts=[api.coord([api.value(0),api.value(1)]),api.coord([n[0],n[1]]),api.coord([n[0],n[2]]),api.coord([api.value(0),api.value(2)])];
       return {type:'polygon',shape:{points:pts},style:{fill:blue,stroke:blue,lineWidth:1}};
     }},
    {type:'scatter',name:'Wind speed ratio',data:readings,symbol:'diamond',symbolSize:8,
     itemStyle:{color:blue,opacity:1},z:3,silent:true,large:false}
  ]
});
</script></body></html>
